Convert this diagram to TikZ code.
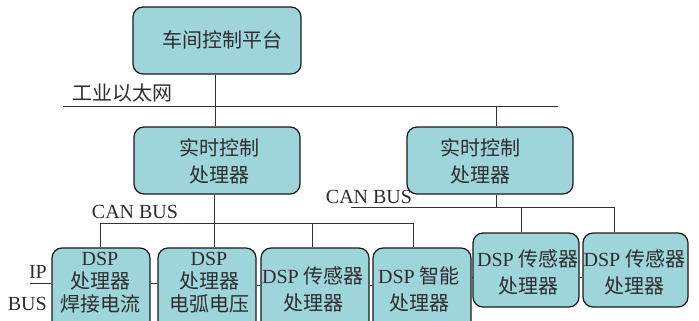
\documentclass[tikz,border=0pt]{standalone}
\usepackage{fontspec}
\setmainfont{Liberation Serif}
\newfontfamily\cjk{Noto Sans CJK SC}
\definecolor{boxfill}{RGB}{158,213,219}
\definecolor{ink}{RGB}{45,45,45}
\begin{document}
\begin{tikzpicture}[x=1pt,y=-1pt,
  box/.style={draw=black!90, line width=1.2pt, fill=boxfill, rounded corners=10pt, inner sep=0pt},
  txt/.style={align=center, font=\fontsize{20}{27}\selectfont, text=ink, inner sep=0pt},
  txtthree/.style={align=center, font=\fontsize{20}{23}\selectfont, text=ink, inner sep=0pt},
  lbl/.style={font=\fontsize{20}{24}\selectfont, text=ink, inner sep=0pt},
  wire/.style={draw=black!80, line width=1pt}]
\useasboundingbox (0,0) rectangle (699,321);
\clip (0,0) rectangle (699,321);

% bus coordinates
\coordinate (eL) at (63,106);
\coordinate (eR) at (558,106);
\coordinate (e1) at (215,106);
\coordinate (e2) at (496,106);
\coordinate (cL) at (100,223);
\coordinate (cR) at (413,223);
\coordinate (c2) at (214,223);
\coordinate (c3) at (312,223);
\coordinate (dL) at (351,207);
\coordinate (dR) at (614,207);
\coordinate (d1) at (496,207);
\coordinate (d5) at (521,207);
\coordinate (ipL) at (30,283);
\coordinate (y283) at (0,283);
\coordinate (y285) at (0,285);
\coordinate (y277) at (0,277);

% boxes
\node[box, minimum width=168pt, minimum height=67pt] (top) at (217,40.5) {};
\node[box, minimum width=166pt, minimum height=67pt] (rt1) at (217,160.5) {};
\node[box, minimum width=166pt, minimum height=67pt] (rt2) at (490,160.5) {};
\node[box, minimum width=98pt, minimum height=90pt] (b1) at (101,293) {};
\node[box, minimum width=98pt, minimum height=90pt] (b2) at (207,293) {};
\node[box, minimum width=108pt, minimum height=90pt] (b3) at (315,293) {};
\node[box, minimum width=98pt, minimum height=90pt] (b4) at (422,293) {};
\node[box, minimum width=106pt, minimum height=74pt] (b5) at (526,270) {};
\node[box, minimum width=105pt, minimum height=74pt] (b6) at (635.5,270) {};

% texts
\node[txt] (topt) at (222,40) {\cjk 车间控制平台};
\node[txt] (rt1t) at (219,161) {\cjk 实时控制\\\cjk 处理器};
\node[txt] (rt2t) at (480,161) {\cjk 实时控制\\\cjk 处理器};
\node[txtthree] (b1t) at (100,283) {DSP\\\cjk 处理器\\\cjk 焊接电流};
\node[txtthree] (b2t) at (209,283) {DSP\\\cjk 处理器\\\cjk 电弧电压};
\node[txt] (b3t) at (313,289.5) {DSP {\cjk 传感器}\\\cjk 处理器};
\node[txt] (b4t) at (419,289.5) {DSP {\cjk 智能}\\\cjk 处理器};
\node[txt] (b5t) at (528,272.5) {DSP {\cjk 传感器}\\\cjk 处理器};
\node[txt] (b6t) at (634.5,272.5) {DSP {\cjk 传感器}\\\cjk 处理器};

% labels
\node[lbl] (eth) at (122,93) {\cjk 工业以太网};
\node[lbl] (can1) at (135,212) {CAN BUS};
\node[lbl] (can2) at (369,197) {CAN BUS};
\node[lbl, anchor=east] (ip) at (47,271.5) {IP};
\node[lbl, anchor=east] (bus) at (47,304) {BUS};

% ethernet
\draw[wire] (eL) -- (eR);
\draw[wire] (top.south -| e1) -- (rt1.north -| e1);
\draw[wire] (e2) -- (rt2.north -| e2);

% left CAN bus
\draw[wire] (cL) -- (cR);
\draw[wire] (rt1.south -| c2) -- (b2.north -| c2);
\draw[wire] (cL) -- (b1.north -| cL);
\draw[wire] (c3) -- (b3.north -| c3);
\draw[wire] (cR) -- (b4.north -| cR);

% right CAN bus
\draw[wire] (dL) -- (dR);
\draw[wire] (rt2.south -| d1) -- (d1);
\draw[wire] (d5) -- (b5.north -| d5);
\draw[wire] (dR) -- (b6.north -| dR);

% IP bus and side links
\draw[wire] (ipL) -- (b1.west |- ipL);
\draw[wire] (b1.east |- y283) -- (b2.west |- y283);
\draw[wire] (b2.east |- y285) -- (b3.west |- y285);
\draw[wire] (b3.east |- y285) -- (b4.west |- y285);
\draw[wire] (b4.east |- y277) -- (b5.west |- y277);
\draw[wire] (b5.east |- y277) -- (b6.west |- y277);
\end{tikzpicture}
\end{document}
